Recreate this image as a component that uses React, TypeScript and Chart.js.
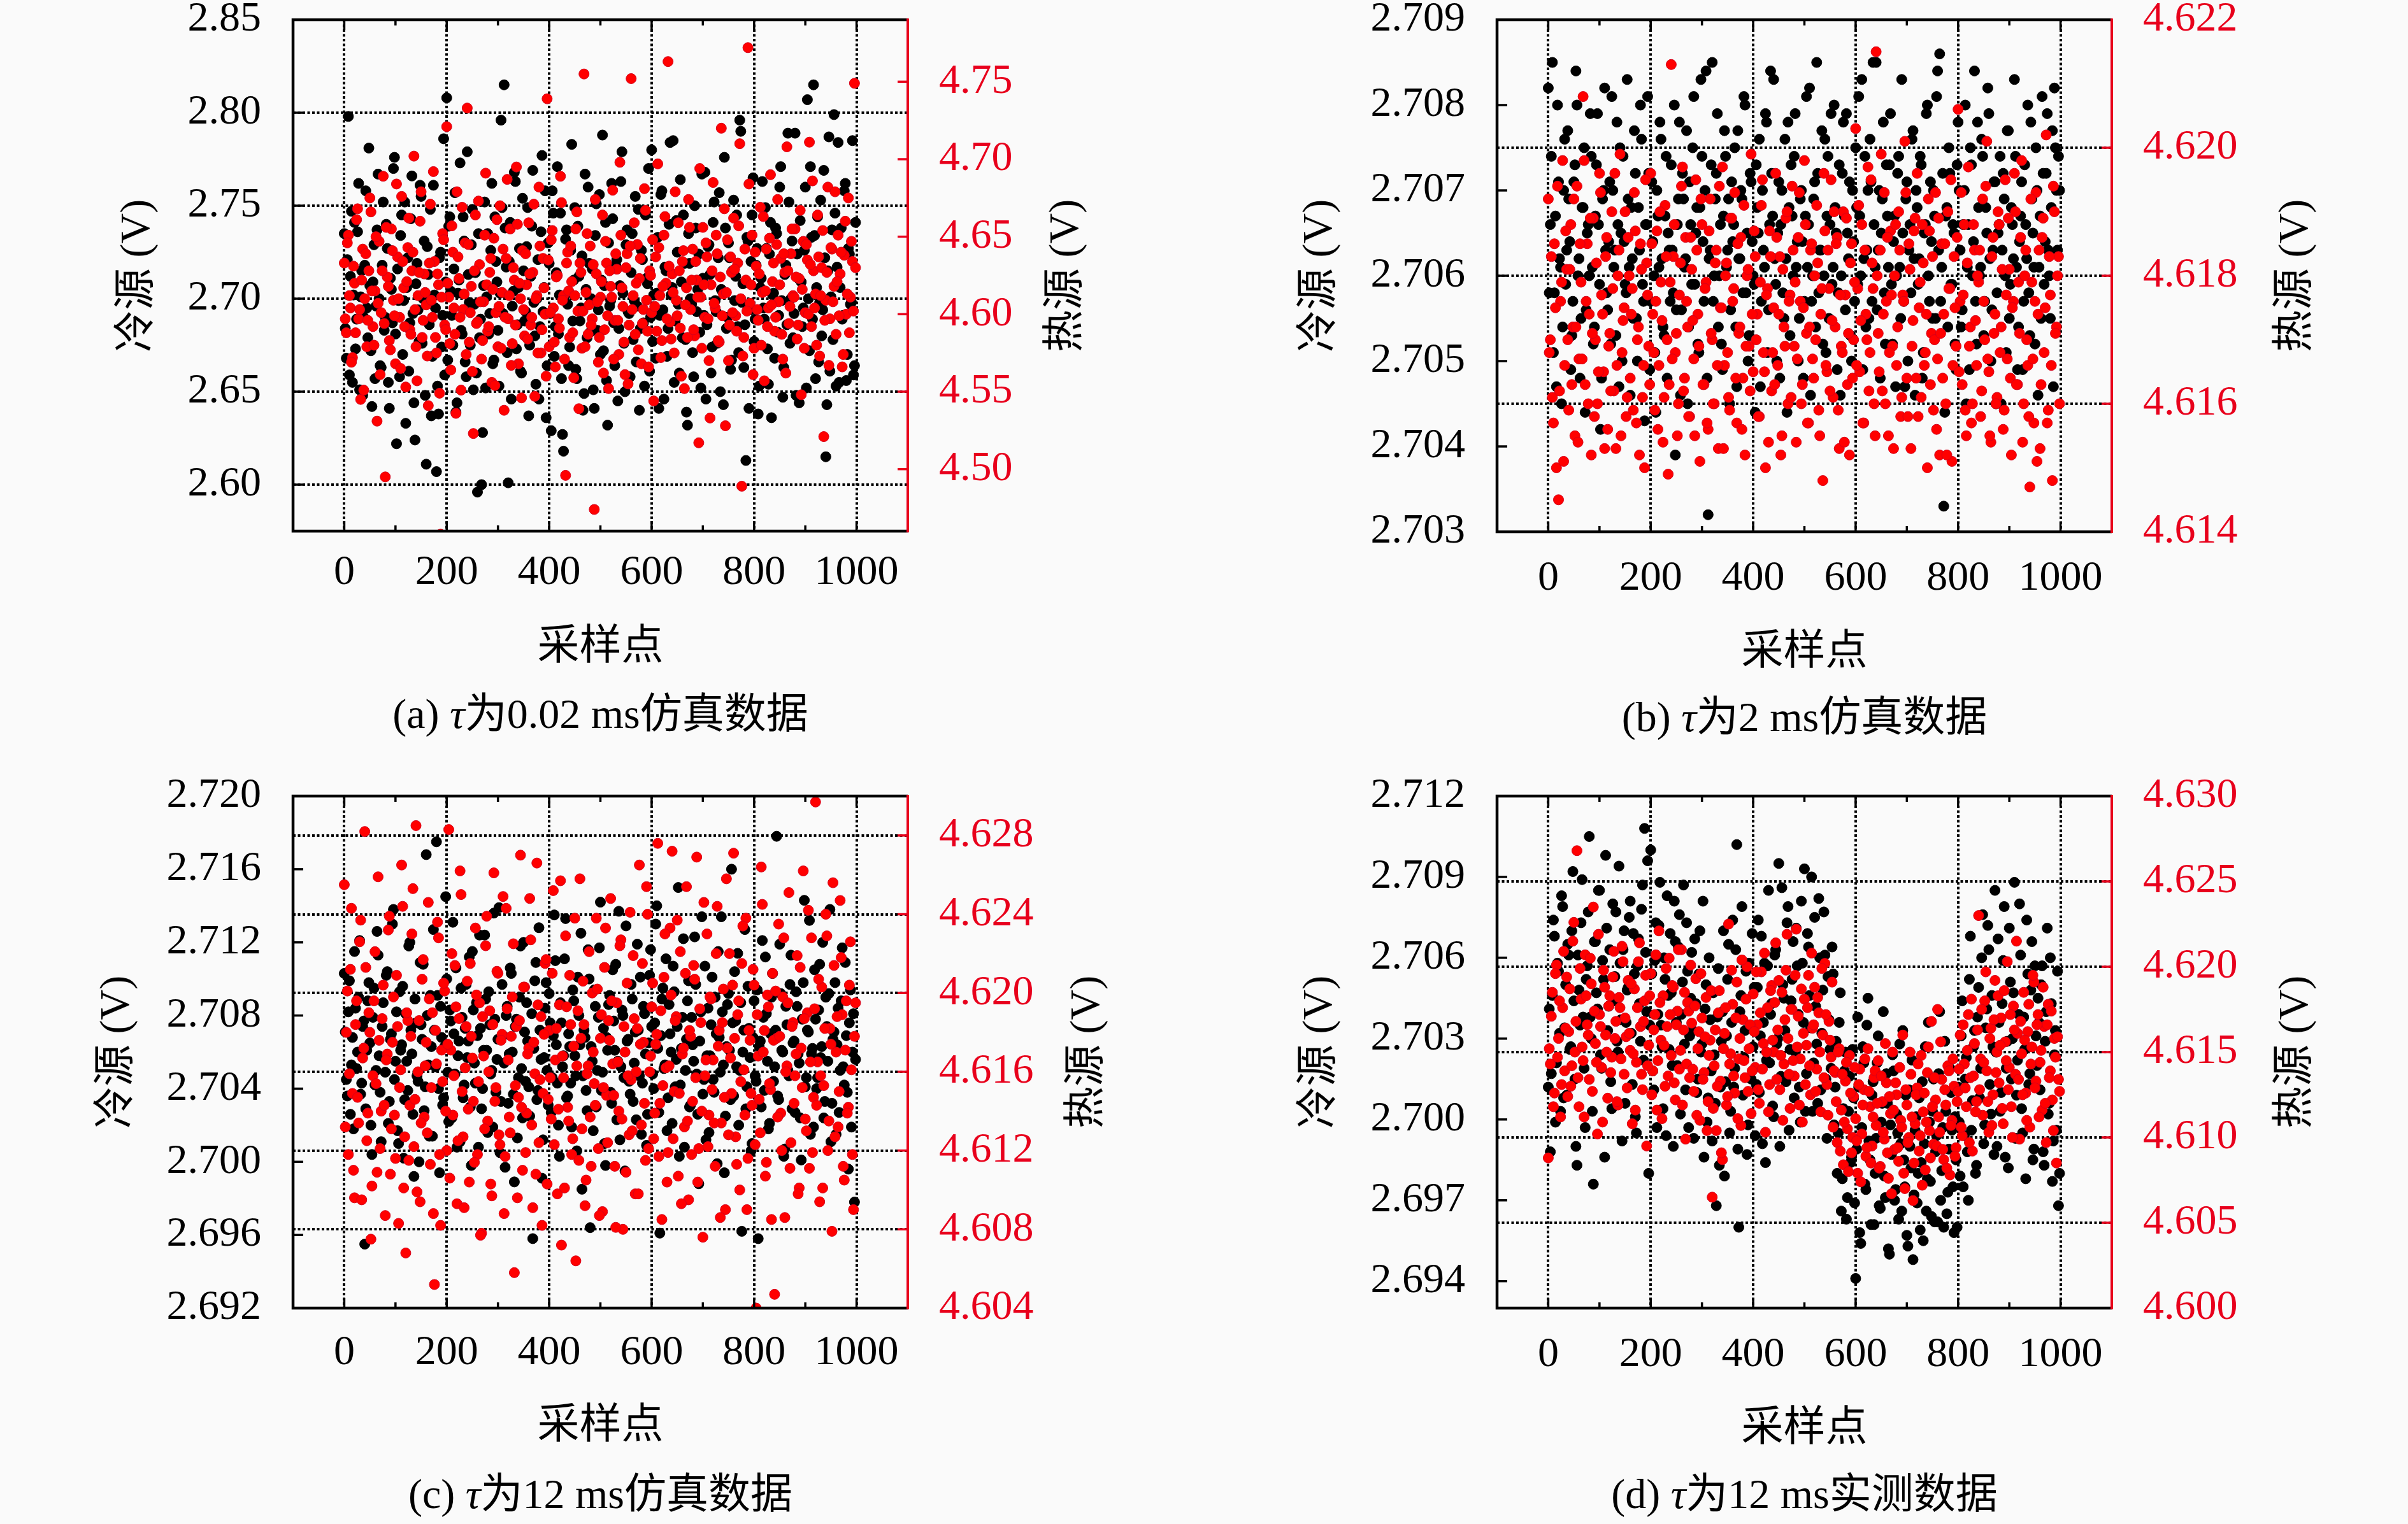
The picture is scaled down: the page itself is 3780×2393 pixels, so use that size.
import React, { useEffect, useRef } from "react";
import { Chart, registerables } from "chart.js";
Chart.register(...registerables);

// sampling-point spacing between listed readings; second list sits midway
const SAMPLE_STEP = 4;
const SAMPLE_OFFSET = 2;
const X_TICKS = [0, 200, 400, 600, 800, 1000];
const X_TICKS_MINOR = [100, 300, 500, 700, 900];

// (a) tau = 0.02 ms simulation
const COLD_A = [
  2.735, 2.668, 2.798, 2.712, 2.655, 2.741, 2.689, 2.762, 2.701, 2.648,
  2.718, 2.695, 2.781, 2.672, 2.709, 2.657, 2.737, 2.700, 2.663, 2.752,
  2.690, 2.727, 2.641, 2.705, 2.770, 2.681, 2.716, 2.658, 2.745, 2.699,
  2.633, 2.722, 2.687, 2.766, 2.644, 2.708, 2.694, 2.761, 2.676, 2.731,
  2.611, 2.713, 2.748, 2.669, 2.702, 2.607, 2.638, 2.725, 2.691, 2.659,
  2.808, 2.739, 2.704, 2.675, 2.757, 2.644, 2.710, 2.683, 2.744, 2.666,
  2.779, 2.698, 2.729, 2.651, 2.714, 2.596, 2.679, 2.600, 2.707, 2.652,
  2.735, 2.692, 2.762, 2.667, 2.720, 2.683, 2.703, 2.749, 2.815, 2.717,
  2.601, 2.741, 2.696, 2.768, 2.673, 2.706, 2.661, 2.754, 2.688, 2.728,
  2.637, 2.712, 2.769, 2.680, 2.700, 2.646, 2.736, 2.693, 2.758, 2.664,
  2.719, 2.629, 2.746, 2.685, 2.771, 2.702, 2.657, 2.618, 2.732, 2.697,
  2.674, 2.783, 2.710, 2.662, 2.739, 2.688, 2.723, 2.649, 2.705, 2.760,
  2.682, 2.716, 2.641, 2.751, 2.694, 2.670, 2.788, 2.707, 2.656, 2.730,
  2.699, 2.743, 2.664, 2.721, 2.684, 2.763, 2.703, 2.650, 2.737, 2.692,
  2.714, 2.678, 2.755, 2.696, 2.640, 2.726, 2.687, 2.745, 2.708, 2.661,
  2.780, 2.702, 2.668, 2.733, 2.691, 2.758, 2.646, 2.715, 2.684, 2.784,
  2.706, 2.655, 2.742, 2.697, 2.764, 2.679, 2.719, 2.639, 2.735, 2.700,
  2.671, 2.750, 2.693, 2.724, 2.652, 2.711, 2.768, 2.686, 2.729, 2.660,
  2.741, 2.699, 2.676, 2.757, 2.705, 2.643, 2.738, 2.690, 2.722, 2.667,
  2.753, 2.712, 2.685, 2.796, 2.698, 2.663, 2.613, 2.731, 2.694, 2.745,
  2.677, 2.718, 2.638, 2.706, 2.763, 2.689, 2.727, 2.654, 2.741, 2.702,
  2.668, 2.735, 2.691, 2.771, 2.647, 2.713, 2.686, 2.752, 2.700, 2.679,
  2.789, 2.724, 2.644, 2.709, 2.695, 2.760, 2.807, 2.672, 2.733, 2.815,
  2.657, 2.744, 2.698, 2.680, 2.769, 2.615, 2.715, 2.661, 2.737, 2.799,
  2.653, 2.784, 2.706, 2.689, 2.758, 2.656, 2.727, 2.697, 2.785, 2.664,
];
const COLD_A_MID = [
  2.684, 2.721, 2.659, 2.747, 2.702, 2.673, 2.736, 2.651, 2.715, 2.690,
  2.758, 2.679, 2.707, 2.642, 2.729, 2.696, 2.767, 2.664, 2.718, 2.683,
  2.740, 2.655, 2.711, 2.687, 2.776, 2.622, 2.699, 2.734, 2.670, 2.752,
  2.706, 2.661, 2.743, 2.692, 2.624, 2.719, 2.677, 2.755, 2.700, 2.648,
  2.728, 2.686, 2.637, 2.761, 2.695, 2.653, 2.722, 2.674, 2.786, 2.709,
  2.667, 2.744, 2.691, 2.716, 2.639, 2.703, 2.773, 2.681, 2.731, 2.658,
  2.713, 2.675, 2.748, 2.697, 2.660, 2.735, 2.689, 2.628, 2.752, 2.701,
  2.681, 2.726, 2.665, 2.744, 2.709, 2.653, 2.796, 2.692, 2.738, 2.671,
  2.720, 2.646, 2.704, 2.763, 2.686, 2.727, 2.660, 2.715, 2.693, 2.749,
  2.675, 2.739, 2.698, 2.654, 2.721, 2.685, 2.777, 2.706, 2.636, 2.730,
  2.692, 2.758, 2.669, 2.714, 2.681, 2.746, 2.627, 2.701, 2.737, 2.664,
  2.726, 2.688, 2.749, 2.657, 2.712, 2.695, 2.640, 2.767, 2.679, 2.719,
  2.700, 2.651, 2.734, 2.683, 2.756, 2.710, 2.672, 2.741, 2.632, 2.696,
  2.762, 2.687, 2.718, 2.645, 2.707, 2.779, 2.676, 2.729, 2.693, 2.658,
  2.735, 2.699, 2.666, 2.748, 2.684, 2.721, 2.653, 2.711, 2.770, 2.690,
  2.677, 2.732, 2.703, 2.641, 2.756, 2.694, 2.717, 2.669, 2.740, 2.702,
  2.785, 2.688, 2.725, 2.660, 2.709, 2.745, 2.678, 2.632, 2.719, 2.697,
  2.658, 2.738, 2.705, 2.682, 2.767, 2.691, 2.646, 2.728, 2.713, 2.674,
  2.752, 2.693, 2.722, 2.650, 2.704, 2.776, 2.684, 2.730, 2.662, 2.715,
  2.699, 2.745, 2.671, 2.790, 2.708, 2.686, 2.733, 2.641, 2.720, 2.765,
  2.689, 2.727, 2.653, 2.711, 2.695, 2.749, 2.673, 2.724, 2.636, 2.703,
  2.738, 2.682, 2.760, 2.699, 2.663, 2.718, 2.789, 2.676, 2.731, 2.692,
  2.648, 2.711, 2.742, 2.685, 2.726, 2.652, 2.700, 2.771, 2.689, 2.734,
  2.706, 2.666, 2.753, 2.694, 2.722, 2.643, 2.787, 2.701, 2.678, 2.746,
  2.717, 2.655, 2.738, 2.691, 2.762, 2.670, 2.724, 2.698, 2.659, 2.741,
];
const HOT_A = [
  4.633, 4.588, 4.651, 4.604, 4.572, 4.620, 4.661, 4.597, 4.545, 4.642,
  4.610, 4.579, 4.628, 4.666, 4.592, 4.615, 4.531, 4.647, 4.601, 4.689,
  4.495, 4.624, 4.583, 4.655, 4.609, 4.568, 4.637, 4.598, 4.676, 4.617,
  4.553, 4.643, 4.590, 4.628, 4.702, 4.579, 4.612, 4.660, 4.585, 4.626,
  4.606, 4.541, 4.671, 4.598, 4.634, 4.575, 4.619, 4.458, 4.652, 4.593,
  4.721, 4.611, 4.564, 4.640, 4.587, 4.679, 4.623, 4.551, 4.603, 4.646,
  4.733, 4.582, 4.618, 4.523, 4.664, 4.595, 4.632, 4.571, 4.608, 4.691,
  4.589, 4.627, 4.556, 4.649, 4.601, 4.579, 4.670, 4.614, 4.538, 4.636,
  4.597, 4.655, 4.581, 4.622, 4.695, 4.568, 4.610, 4.641, 4.586, 4.619,
  4.659, 4.593, 4.627, 4.547, 4.612, 4.682, 4.575, 4.636, 4.600, 4.739,
  4.579, 4.648, 4.604, 4.566, 4.625, 4.591, 4.672, 4.612, 4.496, 4.640,
  4.585, 4.621, 4.559, 4.655, 4.602, 4.633, 4.578, 4.755, 4.614, 4.587,
  4.644, 4.597, 4.474, 4.626, 4.569, 4.611, 4.664, 4.590, 4.633, 4.552,
  4.618, 4.680, 4.596, 4.629, 4.574, 4.651, 4.605, 4.561, 4.639, 4.593,
  4.752, 4.612, 4.587, 4.645, 4.623, 4.568, 4.603, 4.667, 4.589, 4.628,
  4.601, 4.544, 4.637, 4.697, 4.612, 4.583, 4.651, 4.620, 4.763, 4.595,
  4.626, 4.575, 4.609, 4.659, 4.591, 4.634, 4.552, 4.617, 4.674, 4.603,
  4.642, 4.586, 4.622, 4.517, 4.611, 4.656, 4.598, 4.637, 4.570, 4.619,
  4.685, 4.604, 4.639, 4.582, 4.720, 4.613, 4.528, 4.648, 4.593, 4.627,
  4.662, 4.599, 4.633, 4.710, 4.489, 4.585, 4.622, 4.772, 4.607, 4.651,
  4.578, 4.631, 4.596, 4.669, 4.614, 4.557, 4.642, 4.604, 4.690, 4.621,
  4.589, 4.645, 4.608, 4.636, 4.571, 4.627, 4.708, 4.594, 4.639, 4.612,
  4.655, 4.584, 4.623, 4.548, 4.647, 4.601, 4.635, 4.711, 4.592, 4.628,
  4.613, 4.664, 4.573, 4.630, 4.521, 4.609, 4.682, 4.597, 4.642, 4.618,
  4.587, 4.651, 4.626, 4.566, 4.638, 4.600, 4.675, 4.611, 4.634, 4.749,
];
const HOT_A_MID = [
  4.597, 4.646, 4.612, 4.569, 4.631, 4.588, 4.668, 4.603, 4.622, 4.551,
  4.639, 4.596, 4.675, 4.615, 4.580, 4.650, 4.607, 4.561, 4.628, 4.594,
  4.656, 4.618, 4.577, 4.641, 4.599, 4.684, 4.610, 4.565, 4.634, 4.592,
  4.621, 4.662, 4.587, 4.640, 4.603, 4.557, 4.627, 4.679, 4.596, 4.614,
  4.573, 4.633, 4.609, 4.692, 4.585, 4.626, 4.549, 4.611, 4.648, 4.590,
  4.620, 4.581, 4.657, 4.604, 4.536, 4.637, 4.598, 4.669, 4.613, 4.574,
  4.645, 4.601, 4.563, 4.628, 4.594, 4.673, 4.608, 4.583, 4.651, 4.619,
  4.592, 4.636, 4.616, 4.554, 4.661, 4.605, 4.578, 4.642, 4.598, 4.687,
  4.612, 4.567, 4.630, 4.593, 4.658, 4.620, 4.546, 4.603, 4.639, 4.584,
  4.626, 4.598, 4.671, 4.610, 4.575, 4.644, 4.590, 4.617, 4.560, 4.635,
  4.601, 4.654, 4.582, 4.624, 4.597, 4.689, 4.609, 4.571, 4.633, 4.615,
  4.644, 4.588, 4.612, 4.666, 4.539, 4.627, 4.602, 4.579, 4.652, 4.606,
  4.593, 4.632, 4.674, 4.608, 4.585, 4.621, 4.562, 4.647, 4.599, 4.628,
  4.611, 4.571, 4.639, 4.596, 4.698, 4.617, 4.582, 4.630, 4.555, 4.644,
  4.603, 4.659, 4.620, 4.577, 4.636, 4.594, 4.681, 4.609, 4.566, 4.625,
  4.648, 4.605, 4.589, 4.643, 4.572, 4.618, 4.663, 4.597, 4.631, 4.584,
  4.614, 4.679, 4.599, 4.628, 4.560, 4.641, 4.606, 4.585, 4.656, 4.622,
  4.590, 4.634, 4.611, 4.694, 4.578, 4.619, 4.646, 4.597, 4.533, 4.628,
  4.607, 4.651, 4.583, 4.624, 4.599, 4.668, 4.614, 4.570, 4.637, 4.601,
  4.629, 4.589, 4.657, 4.610, 4.573, 4.642, 4.602, 4.684, 4.619, 4.561,
  4.640, 4.603, 4.626, 4.580, 4.663, 4.615, 4.592, 4.649, 4.606, 4.633,
  4.598, 4.674, 4.619, 4.587, 4.639, 4.562, 4.628, 4.605, 4.655, 4.611,
  4.624, 4.593, 4.667, 4.616, 4.578, 4.645, 4.600, 4.632, 4.686, 4.604,
  4.580, 4.637, 4.612, 4.654, 4.596, 4.627, 4.567, 4.643, 4.608, 4.679,
  4.621, 4.599, 4.640, 4.574, 4.660, 4.613, 4.588, 4.647, 4.602, 4.630,
];

// (b) tau = 2 ms simulation
const COLD_B = [
  2.7082, 2.7066, 2.7085, 2.7058, 2.7047, 2.7071, 2.7061, 2.7054, 2.7076, 2.7063,
  2.7069, 2.7049, 2.7057, 2.7073, 2.7080, 2.7062, 2.7055, 2.7068, 2.7044, 2.7065,
  2.7060, 2.7074, 2.7052, 2.7067, 2.7079, 2.7059, 2.7048, 2.7070, 2.7063, 2.7056,
  2.7071, 2.7081, 2.7061, 2.7053, 2.7066, 2.7075, 2.7050, 2.7064, 2.7058, 2.7069,
  2.7046, 2.7062, 2.7077, 2.7055, 2.7068, 2.7080, 2.7059, 2.7043, 2.7066, 2.7072,
  2.7057, 2.7064, 2.7051, 2.7070, 2.7061, 2.7076, 2.7054, 2.7067, 2.7048, 2.7063,
  2.7073, 2.7058, 2.7039, 2.7066, 2.7078, 2.7056, 2.7069, 2.7062, 2.7045, 2.7071,
  2.7059, 2.7081, 2.7065, 2.7052, 2.7068, 2.7074, 2.7057, 2.7084, 2.7032, 2.7063,
  2.7085, 2.7060, 2.7072, 2.7054, 2.7066, 2.7049, 2.7077, 2.7061, 2.7069, 2.7056,
  2.7064, 2.7075, 2.7047, 2.7062, 2.7070, 2.7058, 2.7080, 2.7065, 2.7053, 2.7071,
  2.7060, 2.7044, 2.7068, 2.7076, 2.7057, 2.7063, 2.7079, 2.7051, 2.7066, 2.7072,
  2.7083, 2.7059, 2.7065, 2.7048, 2.7070, 2.7055, 2.7062, 2.7078, 2.7053, 2.7067,
  2.7074, 2.7061, 2.7050, 2.7069, 2.7064, 2.7057, 2.7081, 2.7066, 2.7046, 2.7060,
  2.7071, 2.7085, 2.7058, 2.7063, 2.7052, 2.7076, 2.7067, 2.7055, 2.7079, 2.7061,
  2.7068, 2.7049, 2.7073, 2.7060, 2.7078, 2.7056, 2.7065, 2.7071, 2.7050, 2.7064,
  2.7075, 2.7059, 2.7067, 2.7083, 2.7062, 2.7054, 2.7070, 2.7076, 2.7057, 2.7066,
  2.7085, 2.7063, 2.7048, 2.7069, 2.7058, 2.7073, 2.7061, 2.7079, 2.7052, 2.7067,
  2.7060, 2.7074, 2.7055, 2.7065, 2.7047, 2.7071, 2.7063, 2.7058, 2.7077, 2.7046,
  2.7068, 2.7062, 2.7073, 2.7051, 2.7066, 2.7080, 2.7057, 2.7064, 2.7070, 2.7055,
  2.7084, 2.7086, 2.7061, 2.7033, 2.7067, 2.7054, 2.7072, 2.7059, 2.7065, 2.7049,
  2.7078, 2.7063, 2.7056, 2.7070, 2.7045, 2.7066, 2.7075, 2.7060, 2.7084, 2.7052,
  2.7068, 2.7061, 2.7074, 2.7057, 2.7065, 2.7079, 2.7050, 2.7063, 2.7071, 2.7058,
  2.7066, 2.7045, 2.7072, 2.7060, 2.7077, 2.7055, 2.7068, 2.7062, 2.7074, 2.7049,
  2.7064, 2.7071, 2.7057, 2.7066, 2.7080, 2.7053, 2.7069, 2.7061, 2.7075, 2.7046,
  2.7067, 2.7081, 2.7059, 2.7072, 2.7063, 2.7055, 2.7077, 2.7082, 2.7070, 2.7074,
];
const COLD_B_MID = [
  2.7058, 2.7074, 2.7051, 2.7067, 2.7080, 2.7062, 2.7045, 2.7070, 2.7059, 2.7077,
  2.7064, 2.7053, 2.7071, 2.7084, 2.7060, 2.7048, 2.7068, 2.7075, 2.7056, 2.7066,
  2.7079, 2.7061, 2.7054, 2.7073, 2.7066, 2.7042, 2.7069, 2.7082, 2.7058, 2.7064,
  2.7052, 2.7070, 2.7063, 2.7078, 2.7047, 2.7065, 2.7074, 2.7059, 2.7083, 2.7061,
  2.7068, 2.7055, 2.7072, 2.7050, 2.7063, 2.7076, 2.7057, 2.7066, 2.7081, 2.7049,
  2.7071, 2.7060, 2.7044, 2.7067, 2.7078, 2.7062, 2.7053, 2.7074, 2.7065, 2.7057,
  2.7063, 2.7080, 2.7056, 2.7069, 2.7046, 2.7072, 2.7061, 2.7077, 2.7054, 2.7066,
  2.7075, 2.7059, 2.7068, 2.7051, 2.7083, 2.7064, 2.7070, 2.7048, 2.7062, 2.7073,
  2.7057, 2.7069, 2.7079, 2.7060, 2.7052, 2.7067, 2.7074, 2.7063, 2.7045, 2.7071,
  2.7066, 2.7054, 2.7077, 2.7062, 2.7069, 2.7081, 2.7058, 2.7050, 2.7072, 2.7064,
  2.7059, 2.7073, 2.7065, 2.7047, 2.7070, 2.7061, 2.7078, 2.7056, 2.7084, 2.7067,
  2.7062, 2.7050, 2.7071, 2.7066, 2.7058, 2.7076, 2.7044, 2.7068, 2.7073, 2.7060,
  2.7079, 2.7064, 2.7055, 2.7070, 2.7048, 2.7067, 2.7061, 2.7082, 2.7057, 2.7069,
  2.7054, 2.7072, 2.7063, 2.7077, 2.7060, 2.7051, 2.7074, 2.7066, 2.7059, 2.7080,
  2.7065, 2.7058, 2.7046, 2.7072, 2.7067, 2.7079, 2.7062, 2.7053, 2.7070, 2.7057,
  2.7068, 2.7081, 2.7060, 2.7049, 2.7074, 2.7063, 2.7055, 2.7071, 2.7085, 2.7061,
  2.7056, 2.7070, 2.7065, 2.7078, 2.7052, 2.7067, 2.7073, 2.7059, 2.7064, 2.7047,
  2.7072, 2.7061, 2.7083, 2.7057, 2.7069, 2.7050, 2.7066, 2.7076, 2.7062, 2.7070,
  2.7059, 2.7074, 2.7048, 2.7065, 2.7079, 2.7060, 2.7071, 2.7055, 2.7067, 2.7081,
  2.7063, 2.7057, 2.7072, 2.7044, 2.7068, 2.7075, 2.7059, 2.7066, 2.7052, 2.7073,
  2.7070, 2.7054, 2.7066, 2.7080, 2.7061, 2.7049, 2.7073, 2.7064, 2.7057, 2.7078,
  2.7060, 2.7076, 2.7053, 2.7068, 2.7082, 2.7062, 2.7056, 2.7071, 2.7045, 2.7065,
  2.7074, 2.7063, 2.7069, 2.7051, 2.7077, 2.7059, 2.7066, 2.7083, 2.7061, 2.7054,
  2.7067, 2.7049, 2.7073, 2.7062, 2.7058, 2.7078, 2.7065, 2.7052, 2.7070, 2.7061,
  2.7055, 2.7072, 2.7064, 2.7079, 2.7060, 2.7068, 2.7047, 2.7075, 2.7063, 2.7070,
];
const HOT_B = [
  4.6192, 4.6170, 4.6161, 4.6185, 4.6150, 4.6145, 4.6176, 4.6198, 4.6166, 4.6181,
  4.6159, 4.6188, 4.6172, 4.6155, 4.6194, 4.6167, 4.6179, 4.6208, 4.6163, 4.6185,
  4.6174, 4.6152, 4.6189, 4.6170, 4.6160, 4.6196, 4.6177, 4.6165, 4.6183, 4.6156,
  4.6171, 4.6190, 4.6162, 4.6153, 4.6180, 4.6199, 4.6168, 4.6175, 4.6158, 4.6186,
  4.6164, 4.6178, 4.6193, 4.6157, 4.6172, 4.6185, 4.6161, 4.6150, 4.6182, 4.6169,
  4.6196, 4.6174, 4.6159, 4.6187, 4.6166, 4.6179, 4.6154, 4.6191, 4.6170, 4.6163,
  4.6213, 4.6183, 4.6168, 4.6155, 4.6177, 4.6194, 4.6162, 4.6186, 4.6172, 4.6158,
  4.6181, 4.6167, 4.6195, 4.6174, 4.6151, 4.6188, 4.6163, 4.6179, 4.6156, 4.6192,
  4.6170, 4.6160, 4.6184, 4.6153, 4.6175, 4.6197, 4.6166, 4.6182, 4.6161, 4.6189,
  4.6176, 4.6193, 4.6157, 4.6171, 4.6186, 4.6164, 4.6152, 4.6180, 4.6169, 4.6199,
  4.6165, 4.6183, 4.6174, 4.6158, 4.6191, 4.6168, 4.6150, 4.6178, 4.6187, 4.6162,
  4.6175, 4.6196, 4.6166, 4.6183, 4.6155, 4.6172, 4.6189, 4.6160, 4.6177, 4.6194,
  4.6169, 4.6154, 4.6186, 4.6176, 4.6163, 4.6198, 4.6171, 4.6157, 4.6184, 4.6167,
  4.6180, 4.6191, 4.6159, 4.6174, 4.6148, 4.6187, 4.6165, 4.6178, 4.6195, 4.6161,
  4.6172, 4.6186, 4.6153, 4.6169, 4.6190, 4.6177, 4.6163, 4.6152, 4.6185, 4.6170,
  4.6203, 4.6178, 4.6165, 4.6188, 4.6157, 4.6174, 4.6197, 4.6168, 4.6182, 4.6160,
  4.6215, 4.6171, 4.6184, 4.6162, 4.6193, 4.6176, 4.6155, 4.6187, 4.6169, 4.6180,
  4.6166, 4.6190, 4.6158, 4.6177, 4.6201, 4.6164, 4.6185, 4.6153, 4.6173, 4.6189,
  4.6196, 4.6175, 4.6161, 4.6182, 4.6168, 4.6150, 4.6187, 4.6171, 4.6159, 4.6193,
  4.6167, 4.6152, 4.6185, 4.6174, 4.6160, 4.6190, 4.6178, 4.6151, 4.6183, 4.6169,
  4.6206, 4.6176, 4.6163, 4.6188, 4.6155, 4.6197, 4.6172, 4.6160, 4.6184, 4.6166,
  4.6179, 4.6158, 4.6192, 4.6170, 4.6201, 4.6165, 4.6154, 4.6186, 4.6174, 4.6161,
  4.6188, 4.6172, 4.6156, 4.6195, 4.6167, 4.6181, 4.6152, 4.6176, 4.6190, 4.6163,
  4.6171, 4.6198, 4.6160, 4.6184, 4.6166, 4.6147, 4.6179, 4.6157, 4.6193, 4.6174,
  4.6153, 4.6186, 4.6168, 4.6202, 4.6159, 4.6177, 4.6148, 4.6190, 4.6172, 4.6183,
];
const HOT_B_MID = [
  4.6168, 4.6183, 4.6157, 4.6175, 4.6194, 4.6162, 4.6179, 4.6151, 4.6187, 4.6170,
  4.6181, 4.6163, 4.6192, 4.6172, 4.6154, 4.6185, 4.6167, 4.6198, 4.6176, 4.6160,
  4.6189, 4.6171, 4.6158, 4.6182, 4.6165, 4.6193, 4.6174, 4.6153, 4.6186, 4.6169,
  4.6162, 4.6178, 4.6196, 4.6166, 4.6184, 4.6155, 4.6173, 4.6190, 4.6161, 4.6180,
  4.6174, 4.6159, 4.6187, 4.6170, 4.6152, 4.6181, 4.6166, 4.6195, 4.6177, 4.6163,
  4.6185, 4.6168, 4.6176, 4.6156, 4.6190, 4.6173, 4.6161, 4.6183, 4.6149, 4.6179,
  4.6167, 4.6188, 4.6171, 4.6160, 4.6182, 4.6197, 4.6164, 4.6176, 4.6158, 4.6186,
  4.6173, 4.6155, 4.6184, 4.6169, 4.6192, 4.6163, 4.6178, 4.6157, 4.6187, 4.6171,
  4.6160, 4.6182, 4.6166, 4.6194, 4.6175, 4.6153, 4.6180, 4.6168, 4.6159, 4.6189,
  4.6178, 4.6164, 4.6185, 4.6172, 4.6156, 4.6191, 4.6169, 4.6181, 4.6162, 4.6174,
  4.6187, 4.6170, 4.6158, 4.6179, 4.6195, 4.6165, 4.6177, 4.6154, 4.6183, 4.6168,
  4.6163, 4.6186, 4.6174, 4.6152, 4.6181, 4.6169, 4.6190, 4.6176, 4.6161, 4.6184,
  4.6179, 4.6167, 4.6193, 4.6160, 4.6175, 4.6188, 4.6157, 4.6172, 4.6185, 4.6164,
  4.6170, 4.6182, 4.6155, 4.6178, 4.6196, 4.6166, 4.6184, 4.6162, 4.6173, 4.6190,
  4.6185, 4.6159, 4.6177, 4.6168, 4.6154, 4.6189, 4.6171, 4.6182, 4.6164, 4.6179,
  4.6166, 4.6191, 4.6173, 4.6157, 4.6184, 4.6170, 4.6162, 4.6195, 4.6178, 4.6155,
  4.6180, 4.6165, 4.6199, 4.6174, 4.6160, 4.6186, 4.6168, 4.6177, 4.6153, 4.6188,
  4.6172, 4.6184, 4.6161, 4.6176, 4.6193, 4.6158, 4.6181, 4.6169, 4.6187, 4.6164,
  4.6158, 4.6179, 4.6188, 4.6166, 4.6174, 4.6192, 4.6163, 4.6183, 4.6170, 4.6156,
  4.6189, 4.6171, 4.6164, 4.6185, 4.6152, 4.6178, 4.6195, 4.6166, 4.6175, 4.6186,
  4.6165, 4.6193, 4.6177, 4.6159, 4.6182, 4.6169, 4.6157, 4.6188, 4.6173, 4.6180,
  4.6184, 4.6162, 4.6176, 4.6194, 4.6167, 4.6155, 4.6183, 4.6171, 4.6160, 4.6190,
  4.6168, 4.6181, 4.6159, 4.6177, 4.6189, 4.6164, 4.6175, 4.6196, 4.6163, 4.6179,
  4.6186, 4.6154, 4.6180, 4.6170, 4.6158, 4.6192, 4.6167, 4.6176, 4.6151, 4.6184,
  4.6163, 4.6189, 4.6175, 4.6157, 4.6183, 4.6166, 4.6194, 4.6171, 4.6180, 4.6160,
];

// (c) tau = 12 ms simulation
const COLD_C = [
  2.7103, 2.7045, 2.7082, 2.7026, 2.7068, 2.7115, 2.7051, 2.7090, 2.7037, 2.7074,
  2.6955, 2.7061, 2.7098, 2.7020, 2.7079, 2.7042, 2.7126, 2.7058, 2.7011, 2.7087,
  2.7049, 2.7104, 2.7033, 2.7070, 2.7138, 2.7055, 2.7017, 2.7093, 2.7064, 2.7002,
  2.7081, 2.7039, 2.7120, 2.7059, 2.6992, 2.7076, 2.7044, 2.7109, 2.7067, 2.7028,
  2.7168, 2.7053, 2.7091, 2.7014, 2.7072, 2.7175, 2.7040, 2.7085, 2.7031, 2.7063,
  2.7100, 2.7022, 2.7077, 2.7131, 2.7048, 2.7008, 2.7066, 2.7095, 2.7035, 2.7073,
  2.7057, 2.7112, 2.6998, 2.7083, 2.7043, 2.7069, 2.7124, 2.7029, 2.7061, 2.7089,
  2.7016, 2.7075, 2.7050, 2.7136, 2.7038, 2.7067, 2.7005, 2.7097, 2.7054, 2.7080,
  2.7032, 2.7106, 2.7060, 2.6989, 2.7078, 2.7046, 2.7118, 2.7024, 2.7071, 2.7087,
  2.7041, 2.7065, 2.6958, 2.7099, 2.7034, 2.7128, 2.7056, 2.7012, 2.7084, 2.7050,
  2.7092, 2.7027, 2.7069, 2.7110, 2.7043, 2.7003, 2.7076, 2.7058, 2.7133, 2.7036,
  2.7063, 2.7019, 2.7088, 2.7047, 2.7101, 2.7064, 2.6985, 2.7072, 2.7039, 2.7116,
  2.6964, 2.7055, 2.7094, 2.7030, 2.7079, 2.7142, 2.7049, 2.7010, 2.7068, 2.7086,
  2.7038, 2.7105, 2.7061, 2.7023, 2.7137, 2.7052, 2.7080, 2.6995, 2.7066, 2.7044,
  2.7097, 2.7033, 2.7071, 2.7119, 2.7047, 2.7015, 2.7085, 2.7059, 2.7026, 2.7102,
  2.7074, 2.7040, 2.7130, 2.7062, 2.6961, 2.7089, 2.7051, 2.7111, 2.7035, 2.7070,
  2.7021, 2.7093, 2.7056, 2.7150, 2.7042, 2.7079, 2.7008, 2.7067, 2.7099, 2.7031,
  2.7064, 2.7123, 2.7048, 2.6988, 2.7082, 2.7037, 2.7107, 2.7058, 2.7016, 2.7075,
  2.7045, 2.7090, 2.6999, 2.7068, 2.7134, 2.7053, 2.7025, 2.7086, 2.7061, 2.7160,
  2.7036, 2.7077, 2.7114, 2.7050, 2.6962, 2.7072, 2.7029, 2.7096, 2.7057, 2.7010,
  2.7088, 2.7044, 2.6958, 2.7066, 2.7121, 2.7039, 2.7081, 2.7018, 2.7070, 2.7103,
  2.7052, 2.7178, 2.7034, 2.7092, 2.7060, 2.7007, 2.7075, 2.7047, 2.7113, 2.7065,
  2.7027, 2.7085, 2.7054, 2.7001, 2.7098, 2.7041, 2.7072, 2.7132, 2.7059, 2.7019,
  2.7078, 2.7046, 2.7108, 2.7063, 2.7024, 2.7090, 2.7055, 2.7138, 2.7032, 2.7071,
  2.7015, 2.7084, 2.7050, 2.7117, 2.7042, 2.7069, 2.6996, 2.7094, 2.7060, 2.6978,
];
const COLD_C_MID = [
  2.7071, 2.7036, 2.7099, 2.7053, 2.7018, 2.7084, 2.7060, 2.7121, 2.7043, 2.7077,
  2.7029, 2.7088, 2.7065, 2.7004, 2.7095, 2.7050, 2.7113, 2.7038, 2.7074, 2.7057,
  2.7102, 2.7021, 2.7067, 2.7130, 2.7045, 2.7082, 2.7010, 2.7061, 2.7096, 2.7034,
  2.7055, 2.7118, 2.7072, 2.7026, 2.7089, 2.7047, 2.7000, 2.7075, 2.7108, 2.7041,
  2.7080, 2.7014, 2.7063, 2.7127, 2.7052, 2.7091, 2.6994, 2.7068, 2.7035, 2.7145,
  2.7049, 2.7083, 2.7024, 2.7070, 2.7106, 2.7058, 2.7011, 2.7079, 2.7042, 2.7097,
  2.7066, 2.7030, 2.7115, 2.7054, 2.7087, 2.7008, 2.7073, 2.7040, 2.7124, 2.7061,
  2.7093, 2.7048, 2.7019, 2.7078, 2.7056, 2.7139, 2.7033, 2.7069, 2.6997, 2.7085,
  2.7059, 2.7103, 2.7037, 2.7074, 2.7013, 2.7090, 2.7051, 2.7120, 2.7044, 2.7066,
  2.7025, 2.7081, 2.7062, 2.7109, 2.7039, 2.7072, 2.6991, 2.7057, 2.7098, 2.7031,
  2.7076, 2.7046, 2.7135, 2.7064, 2.7020, 2.7087, 2.7052, 2.7111, 2.7035, 2.7070,
  2.7043, 2.7094, 2.7058, 2.7006, 2.7080, 2.7125, 2.7047, 2.7068, 2.7028, 2.7100,
  2.7063, 2.7017, 2.7085, 2.7050, 2.7117, 2.7039, 2.7073, 2.6998, 2.7061, 2.7091,
  2.7032, 2.7077, 2.7108, 2.7055, 2.7012, 2.7083, 2.7046, 2.7129, 2.7067, 2.7037,
  2.7089, 2.7054, 2.7023, 2.7072, 2.7101, 2.7043, 2.7081, 2.7009, 2.7065, 2.7116,
  2.7048, 2.7076, 2.7140, 2.7027, 2.7069, 2.7095, 2.7053, 2.7017, 2.7086, 2.7060,
  2.7107, 2.7041, 2.7074, 2.7003, 2.7062, 2.7122, 2.7050, 2.7088, 2.7030, 2.7079,
  2.7055, 2.7097, 2.7026, 2.7066, 2.7134, 2.7045, 2.7012, 2.7084, 2.7058, 2.7101,
  2.7038, 2.7070, 2.7115, 2.7049, 2.7082, 2.6994, 2.7063, 2.7092, 2.7034, 2.7076,
  2.7104, 2.7052, 2.7020, 2.7087, 2.7060, 2.7127, 2.7041, 2.7073, 2.7006, 2.7068,
  2.7047, 2.7094, 2.7063, 2.7030, 2.7079, 2.7112, 2.7055, 2.7021, 2.7090, 2.7044,
  2.7072, 2.7036, 2.7119, 2.7061, 2.7003, 2.7085, 2.7050, 2.7097, 2.7029, 2.7066,
  2.7093, 2.7059, 2.7024, 2.7078, 2.7143, 2.7046, 2.7071, 2.7015, 2.7062, 2.7105,
  2.7040, 2.7083, 2.7057, 2.7120, 2.7033, 2.7074, 2.7092, 2.7011, 2.7067, 2.7098,
  2.7064, 2.7027, 2.7088, 2.7052, 2.7109, 2.7038, 2.7076, 2.7019, 2.7081, 2.7056,
];
const HOT_C = [
  4.6255, 4.6180, 4.6118, 4.6212, 4.6149, 4.6096, 4.6196, 4.6134, 4.6237, 4.6167,
  4.6282, 4.6125, 4.6190, 4.6075, 4.6158, 4.6221, 4.6109, 4.6176, 4.6140, 4.6204,
  4.6087, 4.6169, 4.6239, 4.6131, 4.6198, 4.6116, 4.6183, 4.6152, 4.6265, 4.6101,
  4.6068, 4.6186, 4.6143, 4.6230, 4.6122, 4.6285, 4.6160, 4.6094, 4.6207, 4.6137,
  4.6175, 4.6246, 4.6113, 4.6190, 4.6052, 4.6164, 4.6228, 4.6082, 4.6155, 4.6201,
  4.6120, 4.6283, 4.6171, 4.6138, 4.6214, 4.6093, 4.6187, 4.6250, 4.6127, 4.6162,
  4.6206, 4.6104, 4.6178, 4.6145, 4.6233, 4.6118, 4.6195, 4.6078, 4.6168, 4.6224,
  4.6135, 4.6191, 4.6097, 4.6261, 4.6152, 4.6210, 4.6123, 4.6179, 4.6088, 4.6243,
  4.6166, 4.6129, 4.6198, 4.6058, 4.6183, 4.6147, 4.6270, 4.6110, 4.6203, 4.6139,
  4.6172, 4.6227, 4.6091, 4.6159, 4.6266, 4.6124, 4.6188, 4.6149, 4.6215, 4.6103,
  4.6181, 4.6136, 4.6252, 4.6166, 4.6098, 4.6194, 4.6072, 4.6157, 4.6229, 4.6142,
  4.6209, 4.6118, 4.6173, 4.6064, 4.6191, 4.6258, 4.6131, 4.6184, 4.6105, 4.6163,
  4.6137, 4.6200, 4.6154, 4.6238, 4.6121, 4.6177, 4.6089, 4.6213, 4.6148, 4.6186,
  4.6248, 4.6164, 4.6112, 4.6195, 4.6140, 4.6227, 4.6080, 4.6170, 4.6205, 4.6128,
  4.6156, 4.6219, 4.6098, 4.6182, 4.6265, 4.6133, 4.6175, 4.6115, 4.6240, 4.6160,
  4.6193, 4.6126, 4.6174, 4.6276, 4.6144, 4.6085, 4.6208, 4.6162, 4.6119, 4.6233,
  4.6272, 4.6150, 4.6188, 4.6107, 4.6221, 4.6169, 4.6132, 4.6254, 4.6095, 4.6178,
  4.6145, 4.6207, 4.6269, 4.6121, 4.6185, 4.6076, 4.6158, 4.6230, 4.6138, 4.6197,
  4.6166, 4.6112, 4.6244, 4.6181, 4.6134, 4.6202, 4.6090, 4.6172, 4.6220, 4.6149,
  4.6271, 4.6127, 4.6189, 4.6100, 4.6215, 4.6161, 4.6238, 4.6116, 4.6176, 4.6143,
  4.6204, 4.6040, 4.6168, 4.6129, 4.6245, 4.6181, 4.6114, 4.6193, 4.6151, 4.6210,
  4.6047, 4.6177, 4.6235, 4.6139, 4.6198, 4.6086, 4.6163, 4.6251, 4.6124, 4.6185,
  4.6158, 4.6219, 4.6101, 4.6172, 4.6262, 4.6136, 4.6190, 4.6111, 4.6228, 4.6147,
  4.6297, 4.6165, 4.6094, 4.6203, 4.6153, 4.6240, 4.6120, 4.6182, 4.6079, 4.6214,
  4.6170, 4.6132, 4.6247, 4.6189, 4.6105, 4.6196, 4.6142, 4.6226, 4.6118, 4.6178,
];
const HOT_C_MID = [
  4.6132, 4.6201, 4.6159, 4.6243, 4.6110, 4.6184, 4.6147, 4.6226, 4.6095, 4.6172,
  4.6213, 4.6139, 4.6180, 4.6102, 4.6196, 4.6154, 4.6259, 4.6121, 4.6187, 4.6143,
  4.6166, 4.6232, 4.6108, 4.6175, 4.6138, 4.6209, 4.6083, 4.6161, 4.6244, 4.6127,
  4.6190, 4.6115, 4.6178, 4.6253, 4.6146, 4.6099, 4.6186, 4.6134, 4.6217, 4.6163,
  4.6129, 4.6197, 4.6152, 4.6088, 4.6181, 4.6236, 4.6118, 4.6171, 4.6205, 4.6140,
  4.6174, 4.6106, 4.6220, 4.6158, 4.6193, 4.6125, 4.6262, 4.6150, 4.6091, 4.6183,
  4.6141, 4.6215, 4.6167, 4.6114, 4.6199, 4.6155, 4.6077, 4.6188, 4.6131, 4.6239,
  4.6160, 4.6103, 4.6184, 4.6145, 4.6211, 4.6128, 4.6176, 4.6249, 4.6117, 4.6192,
  4.6137, 4.6178, 4.6225, 4.6153, 4.6096, 4.6186, 4.6142, 4.6203, 4.6119, 4.6169,
  4.6248, 4.6133, 4.6175, 4.6108, 4.6194, 4.6156, 4.6082, 4.6179, 4.6217, 4.6146,
  4.6157, 4.6210, 4.6123, 4.6182, 4.6141, 4.6257, 4.6168, 4.6101, 4.6193, 4.6135,
  4.6184, 4.6126, 4.6238, 4.6163, 4.6115, 4.6177, 4.6206, 4.6092, 4.6159, 4.6221,
  4.6112, 4.6170, 4.6143, 4.6202, 4.6087, 4.6189, 4.6152, 4.6233, 4.6124, 4.6176,
  4.6196, 4.6148, 4.6081, 4.6165, 4.6224, 4.6136, 4.6183, 4.6109, 4.6158, 4.6241,
  4.6130, 4.6187, 4.6160, 4.6098, 4.6174, 4.6215, 4.6144, 4.6254, 4.6121, 4.6168,
  4.6205, 4.6139, 4.6179, 4.6117, 4.6191, 4.6153, 4.6230, 4.6104, 4.6163, 4.6199,
  4.6126, 4.6186, 4.6237, 4.6149, 4.6093, 4.6172, 4.6210, 4.6135, 4.6181, 4.6118,
  4.6214, 4.6157, 4.6104, 4.6192, 4.6140, 4.6246, 4.6166, 4.6122, 4.6198, 4.6151,
  4.6134, 4.6220, 4.6173, 4.6086, 4.6185, 4.6147, 4.6258, 4.6128, 4.6167, 4.6204,
  4.6177, 4.6113, 4.6196, 4.6155, 4.6234, 4.6138, 4.6090, 4.6181, 4.6149, 4.6212,
  4.6123, 4.6189, 4.6146, 4.6264, 4.6170, 4.6107, 4.6199, 4.6154, 4.6085, 4.6176,
  4.6201, 4.6137, 4.6178, 4.6120, 4.6228, 4.6160, 4.6195, 4.6111, 4.6183, 4.6144,
  4.6169, 4.6098, 4.6213, 4.6152, 4.6187, 4.6130, 4.6242, 4.6165, 4.6119, 4.6192,
  4.6143, 4.6207, 4.6158, 4.6101, 4.6182, 4.6229, 4.6135, 4.6174, 4.6256, 4.6127,
  4.6188, 4.6150, 4.6218, 4.6112, 4.6171, 4.6139, 4.6204, 4.6161, 4.6090, 4.6195,
];

// (d) tau = 12 ms measured
const COLD_D = [
  2.7012, 2.6988, 2.7046, 2.7068, 2.7021, 2.7055, 2.7003, 2.7079, 2.7034, 2.7009,
  2.7061, 2.7027, 2.7092, 2.7015, 2.6983, 2.7048, 2.7073, 2.7038, 2.6997, 2.7057,
  2.7105, 2.7030, 2.6976, 2.7066, 2.7041, 2.7085, 2.7019, 2.7052, 2.7098, 2.7033,
  2.7063, 2.7004, 2.7044, 2.7077, 2.7025, 2.7058, 2.6992, 2.7070, 2.7036, 2.7049,
  2.7081, 2.7013, 2.7054, 2.6995, 2.7067, 2.7029, 2.7087, 2.7108, 2.7040, 2.6980,
  2.7100, 2.7018, 2.7059, 2.6997, 2.7072, 2.7035, 2.7004, 2.7052, 2.7083, 2.7026,
  2.7047, 2.6990, 2.7066, 2.7020, 2.7076, 2.7039, 2.7087, 2.7011, 2.7055, 2.7031,
  2.7062, 2.6993, 2.7043, 2.7015, 2.7070, 2.7028, 2.6986, 2.7050, 2.7008, 2.7037,
  2.6992, 2.7024, 2.6968, 2.7056, 2.7012, 2.7040, 2.6979, 2.7031, 2.7065, 2.7003,
  2.7074, 2.7019, 2.7102, 2.6960, 2.7046, 2.7009, 2.7033, 2.6987, 2.7058, 2.7015,
  2.7027, 2.6994, 2.7049, 2.7010, 2.7068, 2.7036, 2.6984, 2.7057, 2.7021, 2.7043,
  2.7001, 2.7063, 2.7030, 2.6990, 2.7086, 2.7045, 2.7014, 2.7079, 2.7026, 2.7052,
  2.7008, 2.7071, 2.7039, 2.6999, 2.7058, 2.7093, 2.7017, 2.7064, 2.7034, 2.7003,
  2.7075, 2.7028, 2.7082, 2.7011, 2.7048, 2.7061, 2.6993, 2.7037, 2.7019, 2.7054,
  2.7012, 2.6980, 2.7036, 2.6966, 2.7004, 2.7025, 2.6971, 2.7016, 2.6986, 2.7008,
  2.6941, 2.7038, 2.6958, 2.6997, 2.7021, 2.6974, 2.7045, 2.6985, 2.7009, 2.6961,
  2.6993, 2.7031, 2.6967, 2.7006, 2.6979, 2.7017, 2.6952, 2.6998, 2.7024, 2.6970,
  2.7002, 2.6963, 2.6991, 2.7033, 2.6975, 2.6957, 2.7011, 2.6982, 2.6948, 2.6996,
  2.6969, 2.7008, 2.6984, 2.6955, 2.7027, 2.6978, 2.6999, 2.6964, 2.7015, 2.6988,
  2.6962, 2.7040, 2.6981, 2.6960, 2.7003, 2.6973, 2.7019, 2.6996, 2.6958, 2.6985,
  2.7012, 2.6979, 2.7044, 2.6994, 2.7023, 2.6970, 2.7068, 2.7007, 2.7033, 2.6983,
  2.7049, 2.7019, 2.7076, 2.6998, 2.7041, 2.7063, 2.7002, 2.7027, 2.7085, 2.6990,
  2.7036, 2.7010, 2.7059, 2.6986, 2.7029, 2.7071, 2.7015, 2.7047, 2.6993, 2.7022,
  2.7080, 2.7004, 2.7038, 2.6978, 2.7054, 2.7017, 2.7066, 2.6989, 2.7031, 2.7045,
  2.7011, 2.7057, 2.6983, 2.7040, 2.7002, 2.7060, 2.6977, 2.7024, 2.6996, 2.6968,
];
const COLD_D_MID = [
  2.7041, 2.7017, 2.7074, 2.6999, 2.7058, 2.7032, 2.7083, 2.7008, 2.7050, 2.7065,
  2.7026, 2.7070, 2.7044, 2.6990, 2.7061, 2.7035, 2.7089, 2.7019, 2.7052, 2.7077,
  2.7038, 2.7003, 2.7066, 2.7047, 2.7085, 2.7024, 2.7059, 2.6986, 2.7071, 2.7042,
  2.7014, 2.7080, 2.7053, 2.7029, 2.7094, 2.7037, 2.7063, 2.7006, 2.7048, 2.7075,
  2.7032, 2.7069, 2.7001, 2.7057, 2.7043, 2.7078, 2.7022, 2.7062, 2.7096, 2.7035,
  2.7054, 2.7011, 2.7073, 2.7039, 2.7088, 2.7027, 2.7060, 2.6994, 2.7046, 2.7069,
  2.7020, 2.7081, 2.7036, 2.7064, 2.7002, 2.7051, 2.7028, 2.7073, 2.6997, 2.7045,
  2.7033, 2.7067, 2.7010, 2.7054, 2.7025, 2.7081, 2.7041, 2.6999, 2.7060, 2.7018,
  2.7047, 2.7006, 2.7038, 2.6983, 2.7029, 2.7070, 2.7014, 2.7052, 2.6995, 2.7036,
  2.7012, 2.7063, 2.6989, 2.7040, 2.7079, 2.7023, 2.7055, 2.6998, 2.7034, 2.7069,
  2.7049, 2.7013, 2.7074, 2.7031, 2.6991, 2.7058, 2.7022, 2.7085, 2.7039, 2.7005,
  2.7061, 2.7028, 2.7095, 2.7016, 2.7050, 2.7033, 2.7073, 2.6996, 2.7044, 2.7066,
  2.7025, 2.7057, 2.7012, 2.7081, 2.7036, 2.7003, 2.7069, 2.7046, 2.7090, 2.7021,
  2.7042, 2.7006, 2.7060, 2.7032, 2.7077, 2.7015, 2.7053, 2.7026, 2.7064, 2.6998,
  2.7029, 2.6995, 2.7047, 2.6978, 2.7018, 2.6963, 2.7003, 2.6984, 2.7026, 2.6969,
  2.6989, 2.7012, 2.6954, 2.7027, 2.6976, 2.7035, 2.6992, 2.6961, 2.7014, 2.6980,
  2.7021, 2.6968, 2.6999, 2.7040, 2.6971, 2.7006, 2.6950, 2.6987, 2.7018, 2.6974,
  2.6995, 2.7028, 2.6966, 2.6985, 2.7009, 2.6953, 2.6990, 2.7022, 2.6972, 2.7001,
  2.6980, 2.6959, 2.7014, 2.6991, 2.6966, 2.7036, 2.6977, 2.7003, 2.6962, 2.6994,
  2.7017, 2.6970, 2.6997, 2.7029, 2.6965, 2.6989, 2.7010, 2.6975, 2.7001, 2.6960,
  2.6999, 2.7031, 2.6975, 2.7015, 2.6988, 2.7052, 2.6996, 2.7027, 2.6980, 2.7038,
  2.7008, 2.7060, 2.6991, 2.7034, 2.7072, 2.7013, 2.7046, 2.6987, 2.7025, 2.7067,
  2.7003, 2.7043, 2.7079, 2.7019, 2.6982, 2.7051, 2.7030, 2.7088, 2.7009, 2.7039,
  2.7061, 2.6995, 2.7026, 2.7074, 2.7013, 2.7048, 2.6985, 2.7057, 2.7020, 2.7036,
  2.7050, 2.6988, 2.7029, 2.7071, 2.7006, 2.7043, 2.6992, 2.7033, 2.7055, 2.6980,
];
const HOT_D = [
  4.6088, 4.6143, 4.6185, 4.6126, 4.6201, 4.6158, 4.6112, 4.6176, 4.6139, 4.6194,
  4.6162, 4.6130, 4.6215, 4.6150, 4.6268, 4.6118, 4.6181, 4.6145, 4.6207, 4.6166,
  4.6134, 4.6190, 4.6235, 4.6155, 4.6102, 4.6172, 4.6141, 4.6198, 4.6160, 4.6123,
  4.6183, 4.6147, 4.6209, 4.6168, 4.6119, 4.6176, 4.6212, 4.6137, 4.6159, 4.6192,
  4.6151, 4.6108, 4.6187, 4.6144, 4.6203, 4.6165, 4.6128, 4.6180, 4.6095, 4.6154,
  4.6196, 4.6139, 4.6172, 4.6116, 4.6221, 4.6157, 4.6183, 4.6130, 4.6165, 4.6205,
  4.6148, 4.6188, 4.6122, 4.6174, 4.6140, 4.6210, 4.6163, 4.6099, 4.6179, 4.6135,
  4.6167, 4.6127, 4.6193, 4.6152, 4.6110, 4.6170, 4.6138, 4.6182, 4.6121, 4.6157,
  4.6065, 4.6142, 4.6104, 4.6173, 4.6133, 4.6087, 4.6161, 4.6119, 4.6225, 4.6149,
  4.6178, 4.6126, 4.6191, 4.6146, 4.6107, 4.6169, 4.6135, 4.6200, 4.6152, 4.6114,
  4.6184, 4.6141, 4.6166, 4.6120, 4.6197, 4.6155, 4.6103, 4.6176, 4.6131, 4.6189,
  4.6150, 4.6214, 4.6163, 4.6128, 4.6185, 4.6143, 4.6198, 4.6158, 4.6117, 4.6175,
  4.6136, 4.6222, 4.6171, 4.6146, 4.6109, 4.6181, 4.6154, 4.6195, 4.6125, 4.6164,
  4.6188, 4.6140, 4.6173, 4.6115, 4.6160, 4.6202, 4.6131, 4.6168, 4.6147, 4.6106,
  4.6138, 4.6097, 4.6152, 4.6116, 4.6084, 4.6133, 4.6105, 4.6148, 4.6091, 4.6124,
  4.6111, 4.6079, 4.6140, 4.6102, 4.6128, 4.6089, 4.6152, 4.6118, 4.6095, 4.6135,
  4.6107, 4.6145, 4.6083, 4.6121, 4.6099, 4.6132, 4.6076, 4.6114, 4.6150, 4.6093,
  4.6125, 4.6086, 4.6110, 4.6160, 4.6070, 4.6119, 4.6100, 4.6137, 4.6063, 4.6108,
  4.6129, 4.6092, 4.6148, 4.6115, 4.6081, 4.6138, 4.6104, 4.6168, 4.6096, 4.6122,
  4.6175, 4.6103, 4.6134, 4.6087, 4.6119, 4.6142, 4.6078, 4.6110, 4.6130, 4.6094,
  4.6127, 4.6160, 4.6101, 4.6143, 4.6118, 4.6172, 4.6135, 4.6092, 4.6155, 4.6121,
  4.6230, 4.6146, 4.6113, 4.6180, 4.6139, 4.6103, 4.6164, 4.6125, 4.6192, 4.6150,
  4.6132, 4.6170, 4.6108, 4.6156, 4.6203, 4.6141, 4.6118, 4.6177, 4.6137, 4.6161,
  4.6099, 4.6149, 4.6185, 4.6126, 4.6162, 4.6106, 4.6153, 4.6191, 4.6133, 4.6172,
  4.6144, 4.6116, 4.6165, 4.6097, 4.6178, 4.6139, 4.6122, 4.6158, 4.6085, 4.6134,
];
const HOT_D_MID = [
  4.6152, 4.6171, 4.6118, 4.6196, 4.6147, 4.6180, 4.6131, 4.6209, 4.6164, 4.6124,
  4.6187, 4.6142, 4.6226, 4.6168, 4.6135, 4.6199, 4.6153, 4.6112, 4.6183, 4.6160,
  4.6205, 4.6127, 4.6174, 4.6144, 4.6219, 4.6165, 4.6109, 4.6188, 4.6150, 4.6177,
  4.6138, 4.6194, 4.6158, 4.6121, 4.6182, 4.6146, 4.6203, 4.6170, 4.6129, 4.6161,
  4.6190, 4.6149, 4.6116, 4.6176, 4.6214, 4.6137, 4.6168, 4.6195, 4.6142, 4.6183,
  4.6125, 4.6163, 4.6207, 4.6145, 4.6179, 4.6111, 4.6154, 4.6199, 4.6136, 4.6172,
  4.6189, 4.6132, 4.6166, 4.6210, 4.6151, 4.6119, 4.6185, 4.6143, 4.6174, 4.6201,
  4.6140, 4.6177, 4.6113, 4.6162, 4.6196, 4.6134, 4.6159, 4.6104, 4.6148, 4.6186,
  4.6117, 4.6163, 4.6130, 4.6186, 4.6091, 4.6152, 4.6176, 4.6124, 4.6143, 4.6198,
  4.6136, 4.6170, 4.6111, 4.6158, 4.6204, 4.6145, 4.6181, 4.6127, 4.6166, 4.6139,
  4.6162, 4.6197, 4.6128, 4.6173, 4.6140, 4.6208, 4.6150, 4.6115, 4.6186, 4.6157,
  4.6179, 4.6134, 4.6192, 4.6148, 4.6110, 4.6169, 4.6219, 4.6137, 4.6175, 4.6145,
  4.6195, 4.6153, 4.6119, 4.6187, 4.6161, 4.6131, 4.6176, 4.6142, 4.6208, 4.6166,
  4.6127, 4.6182, 4.6150, 4.6199, 4.6135, 4.6172, 4.6113, 4.6157, 4.6191, 4.6139,
  4.6121, 4.6150, 4.6092, 4.6137, 4.6109, 4.6144, 4.6080, 4.6126, 4.6100, 4.6141,
  4.6098, 4.6131, 4.6074, 4.6119, 4.6146, 4.6094, 4.6127, 4.6085, 4.6112, 4.6139,
  4.6120, 4.6082, 4.6136, 4.6103, 4.6155, 4.6091, 4.6124, 4.6067, 4.6116, 4.6132,
  4.6094, 4.6141, 4.6106, 4.6079, 4.6128, 4.6097, 4.6150, 4.6112, 4.6085, 4.6125,
  4.6143, 4.6101, 4.6072, 4.6126, 4.6109, 4.6153, 4.6088, 4.6118, 4.6135, 4.6095,
  4.6112, 4.6156, 4.6093, 4.6128, 4.6082, 4.6139, 4.6107, 4.6146, 4.6089, 4.6121,
  4.6140, 4.6106, 4.6166, 4.6129, 4.6151, 4.6097, 4.6181, 4.6136, 4.6115, 4.6163,
  4.6128, 4.6175, 4.6144, 4.6197, 4.6121, 4.6158, 4.6107, 4.6169, 4.6138, 4.6183,
  4.6154, 4.6117, 4.6186, 4.6145, 4.6128, 4.6172, 4.6100, 4.6163, 4.6215, 4.6134,
  4.6168, 4.6125, 4.6157, 4.6110, 4.6178, 4.6143, 4.6195, 4.6129, 4.6166, 4.6112,
  4.6151, 4.6188, 4.6120, 4.6166, 4.6135, 4.6174, 4.6104, 4.6147, 4.6159, 4.6127,
];

const COLD_TICKS_A = [2.6, 2.65, 2.7, 2.75, 2.8, 2.85];
const HOT_TICKS_A = [4.5, 4.55, 4.6, 4.65, 4.7, 4.75];
const COLD_TICKS_B = [2.703, 2.704, 2.705, 2.706, 2.707, 2.708, 2.709];
const HOT_TICKS_B = [4.614, 4.616, 4.618, 4.62, 4.622];
const COLD_TICKS_C = [2.692, 2.696, 2.7, 2.704, 2.708, 2.712, 2.716, 2.72];
const HOT_TICKS_C = [4.604, 4.608, 4.612, 4.616, 4.62, 4.624, 4.628];
const COLD_TICKS_D = [2.694, 2.697, 2.7, 2.703, 2.706, 2.709, 2.712];
const HOT_TICKS_D = [4.6, 4.605, 4.61, 4.615, 4.62, 4.625, 4.63];

const X_TITLE = "采样点";
const COLD_TITLE = "冷源 (V)";
const HOT_TITLE = "热源 (V)";

const SERIF = '"Liberation Serif", "DejaVu Serif", "Noto Sans CJK SC", serif';
const RED = "#e8001c";
const PW = 965; // plot width
const LW = 260; // left axis box
const RW = 250; // right axis box
const PT = 92; // top padding (>= label half height + tick padding)
const XH = 140; // x axis box

type PanelCfg = {
  cold: number[]; coldMid: number[]; hot: number[]; hotMid: number[];
  coldTicks: number[]; hotTicks: number[];
  coldMin: number; coldMax: number; hotMin: number; hotMax: number;
  dec: number; grid: "y" | "y1";
  L: number; T: number; B: number; labelGap: number;
  leftTitleX: number; rightTitleX: number; xTitleY: number; captionY: number;
  tag: string; rest: string;
};

const PANELS: PanelCfg[] = [
  { cold: COLD_A, coldMid: COLD_A_MID, hot: HOT_A, hotMid: HOT_A_MID, coldTicks: COLD_TICKS_A, hotTicks: HOT_TICKS_A,
    coldMin: 2.575, coldMax: 2.85, hotMin: 4.46, hotMax: 4.79, dec: 2, grid: "y",
    L: 460, T: 31, B: 834, labelGap: 66, leftTitleX: 212, rightTitleX: 1670, xTitleY: 1013, captionY: 1121,
    tag: "(a) ", rest: "为0.02 ms仿真数据" },
  { cold: COLD_B, coldMid: COLD_B_MID, hot: HOT_B, hotMid: HOT_B_MID, coldTicks: COLD_TICKS_B, hotTicks: HOT_TICKS_B,
    coldMin: 2.703, coldMax: 2.709, hotMin: 4.614, hotMax: 4.622, dec: 3, grid: "y1",
    L: 2350, T: 31, B: 835, labelGap: 74, leftTitleX: 2068, rightTitleX: 3600, xTitleY: 1021, captionY: 1126,
    tag: "(b) ", rest: "为2 ms仿真数据" },
  { cold: COLD_C, coldMid: COLD_C_MID, hot: HOT_C, hotMid: HOT_C_MID, coldTicks: COLD_TICKS_C, hotTicks: HOT_TICKS_C,
    coldMin: 2.692, coldMax: 2.72, hotMin: 4.604, hotMax: 4.63, dec: 3, grid: "y1",
    L: 460, T: 1250, B: 2054, labelGap: 71, leftTitleX: 180, rightTitleX: 1703, xTitleY: 2236, captionY: 2346,
    tag: "(c) ", rest: "为12 ms仿真数据" },
  { cold: COLD_D, coldMid: COLD_D_MID, hot: HOT_D, hotMid: HOT_D_MID, coldTicks: COLD_TICKS_D, hotTicks: HOT_TICKS_D,
    coldMin: 2.693, coldMax: 2.712, hotMin: 4.6, hotMax: 4.63, dec: 3, grid: "y1",
    L: 2350, T: 1250, B: 2054, labelGap: 74, leftTitleX: 2068, rightTitleX: 3600, xTitleY: 2240, captionY: 2346,
    tag: "(d) ", rest: "为12 ms实测数据" },
];

const toPoints = (main: number[], mid: number[]) =>
  main.map((v, i) => ({ x: i * SAMPLE_STEP, y: v }))
    .concat(mid.map((v, i) => ({ x: i * SAMPLE_STEP + SAMPLE_OFFSET, y: v })));

const framePlugin = {
  id: "frameTicks",
  afterDraw(chart: any) {
    const { ctx, chartArea: a, scales } = chart;
    const x = scales.x, y = scales.y, y1 = scales.y1;
    ctx.save();
    ctx.lineCap = "butt";
    ctx.strokeStyle = "#000";
    ctx.lineWidth = 3.5;
    const drawX = (v: number, len: number) => {
      const px = x.getPixelForValue(v);
      ctx.beginPath();
      ctx.moveTo(px, a.bottom); ctx.lineTo(px, a.bottom - len);
      ctx.moveTo(px, a.top); ctx.lineTo(px, a.top + len);
      ctx.stroke();
    };
    x.ticks.forEach((t: any) => drawX(t.value, 16));
    X_TICKS_MINOR.forEach((v) => drawX(v, 9));
    y.ticks.forEach((t: any) => {
      const py = y.getPixelForValue(t.value);
      ctx.beginPath(); ctx.moveTo(a.left, py); ctx.lineTo(a.left + 16, py); ctx.stroke();
    });
    ctx.strokeStyle = RED;
    y1.ticks.forEach((t: any) => {
      const py = y1.getPixelForValue(t.value);
      ctx.beginPath(); ctx.moveTo(a.right, py); ctx.lineTo(a.right - 16, py); ctx.stroke();
    });
    ctx.lineWidth = 4.5;
    ctx.strokeStyle = "#000";
    ctx.beginPath();
    ctx.moveTo(a.right, a.top); ctx.lineTo(a.left, a.top); ctx.lineTo(a.left, a.bottom); ctx.lineTo(a.right, a.bottom);
    ctx.stroke();
    ctx.strokeStyle = RED;
    ctx.lineWidth = 4;
    ctx.beginPath(); ctx.moveTo(a.right, a.top - 2); ctx.lineTo(a.right, a.bottom + 2); ctx.stroke();
    ctx.restore();
  },
};

function PanelChart({ p }: { p: PanelCfg }) {
  const ref = useRef<HTMLCanvasElement | null>(null);
  const W = LW + PW + RW;
  const H = PT + (p.B - p.T) + XH;
  useEffect(() => {
    if (!ref.current) return;
    const tickFont = { family: SERIF, size: 66, lineHeight: 1.2 };
    const gridOn = { display: true, color: "#000", lineWidth: 4, drawTicks: false, drawOnChartArea: true };
    const gridOff = { display: false, drawTicks: false };
    const dash = [4, 3.5];
    const chart = new Chart(ref.current, {
      type: "scatter",
      data: {
        datasets: [
          {
            label: HOT_TITLE,
            data: toPoints(p.hot, p.hotMid),
            yAxisID: "y1",
            backgroundColor: "#ff0000",
            borderColor: "#d4001a",
            borderWidth: 1,
            pointRadius: 8,
            order: 0,
          },
          {
            label: COLD_TITLE,
            data: toPoints(p.cold, p.coldMid),
            yAxisID: "y",
            backgroundColor: "#000000",
            borderColor: "#000000",
            borderWidth: 1,
            pointRadius: 8,
            order: 1,
          },
        ],
      },
      options: {
        animation: false,
        responsive: false,
        devicePixelRatio: 1,
        events: [],
        layout: { padding: { top: PT, left: 0, right: 0, bottom: 0 } },
        plugins: { legend: { display: false }, tooltip: { enabled: false }, title: { display: false } },
        scales: {
          x: {
            type: "linear", position: "bottom", min: -100, max: 1100,
            afterBuildTicks: (s: any) => { s.ticks = X_TICKS.map((v) => ({ value: v })); },
            afterFit: (s: any) => { s.height = XH; },
            ticks: { font: tickFont, color: "#000", padding: p.labelGap - 40, autoSkip: false, maxRotation: 0,
              callback: (v: any) => String(v) },
            grid: gridOn,
            border: { display: false, dash },
          },
          y: {
            type: "linear", position: "left", min: p.coldMin, max: p.coldMax,
            afterBuildTicks: (s: any) => { s.ticks = p.coldTicks.map((v) => ({ value: v })); },
            afterFit: (s: any) => { s.width = LW; },
            ticks: { font: tickFont, color: "#000", padding: 50, autoSkip: false,
              callback: (v: any) => Number(v).toFixed(p.dec) },
            grid: p.grid === "y" ? gridOn : gridOff,
            border: { display: false, dash },
          },
          y1: {
            type: "linear", position: "right", min: p.hotMin, max: p.hotMax,
            afterBuildTicks: (s: any) => { s.ticks = p.hotTicks.map((v) => ({ value: v })); },
            afterFit: (s: any) => { s.width = RW; },
            ticks: { font: tickFont, color: RED, padding: 49, autoSkip: false,
              callback: (v: any) => Number(v).toFixed(p.dec) },
            grid: p.grid === "y1" ? gridOn : gridOff,
            border: { display: false, dash },
          },
        },
      },
      plugins: [framePlugin],
    } as any);
    return () => chart.destroy();
  }, [p]);

  const cx = p.L + PW / 2;
  const cy = (p.T + p.B) / 2;
  const titleStyle: React.CSSProperties = {
    position: "absolute", fontFamily: SERIF, fontSize: 66, lineHeight: "1", whiteSpace: "nowrap", color: "#000",
  };
  return (
    <>
      <canvas ref={ref} width={W} height={H}
        style={{ position: "absolute", left: p.L - LW, top: p.T - PT, width: W, height: H }} />
      <div style={{ ...titleStyle, left: p.leftTitleX, top: cy, transform: "translate(-50%, -50%) rotate(-90deg)" }}>{COLD_TITLE}</div>
      <div style={{ ...titleStyle, left: p.rightTitleX, top: cy, transform: "translate(-50%, -50%) rotate(-90deg)" }}>{HOT_TITLE}</div>
      <div style={{ ...titleStyle, left: cx, top: p.xTitleY, transform: "translate(-50%, -50%)" }}>{X_TITLE}</div>
      <div style={{ ...titleStyle, left: cx, top: p.captionY, transform: "translate(-50%, -50%)" }}>
        {p.tag}<i>τ</i>{p.rest}
      </div>
    </>
  );
}

export default function App() {
  return (
    <div style={{ position: "absolute", left: 0, top: 0, width: 3780, height: 2393, background: "#fafafa", overflow: "hidden" }}>
      {PANELS.map((p, i) => <PanelChart key={i} p={p} />)}
    </div>
  );
}
